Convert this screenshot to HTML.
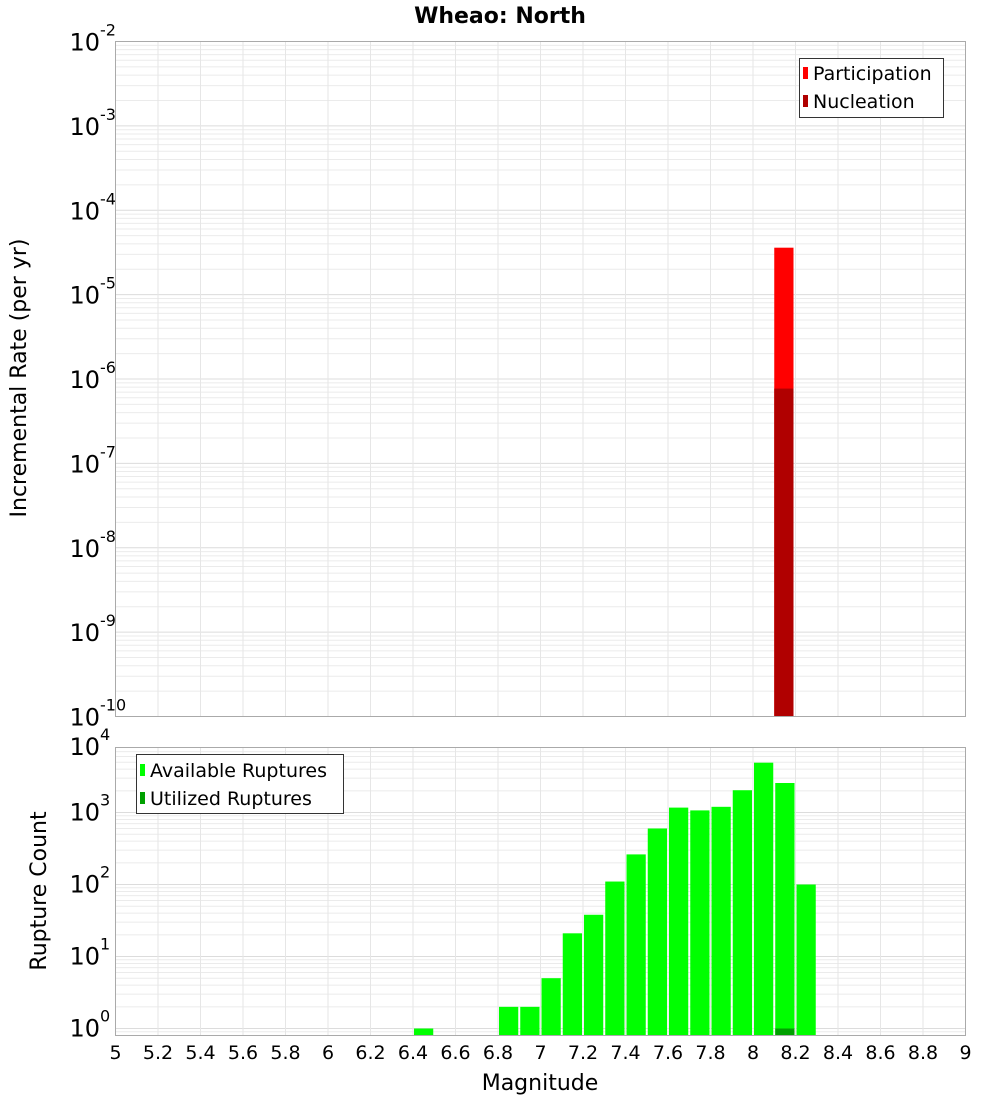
<!DOCTYPE html>
<html><head><meta charset="utf-8"><style>
body{margin:0;background:#fff}
svg{display:block;font-family:"DejaVu Sans","Liberation Sans",sans-serif}
</style></head><body>
<svg id="c" width="1000" height="1100">
<text x="500" y="23" text-anchor="middle" font-size="22" font-weight="bold">Wheao: North</text>
<g id="gtop"></g>
<g id="gbot"></g>
<text transform="translate(26,378) rotate(-90)" text-anchor="middle" font-size="22">Incremental Rate (per yr)</text>
<text transform="translate(46,891) rotate(-90)" text-anchor="middle" font-size="22">Rupture Count</text>
<text x="540" y="1090" text-anchor="middle" font-size="22">Magnitude</text>
<g>
<rect x="799.5" y="58.5" width="144" height="59" fill="#fff" stroke="#333"/>
<rect x="803" y="67" width="5" height="12" fill="#ff0000"/>
<text x="813" y="80" font-size="19">Participation</text>
<rect x="803" y="95" width="5" height="12" fill="#b00000"/>
<text x="813" y="108" font-size="19">Nucleation</text>
</g>
<g>
<rect x="136.5" y="754.5" width="207" height="59" fill="#fff" stroke="#333"/>
<rect x="140" y="764" width="5" height="12" fill="#00ff00"/>
<text x="150" y="777" font-size="19">Available Ruptures</text>
<rect x="140" y="792" width="5" height="12" fill="#00a000"/>
<text x="150" y="805" font-size="19">Utilized Ruptures</text>
</g>
</svg>
<script>
const xTicks=[5,5.2,5.4,5.6,5.8,6,6.2,6.4,6.6,6.8,7,7.2,7.4,7.6,7.8,8,8.2,8.4,8.6,8.8,9];
const xTickLabels=["5","5.2","5.4","5.6","5.8","6","6.2","6.4","6.6","6.8","7","7.2","7.4","7.6","7.8","8","8.2","8.4","8.6","8.8","9"];
const rateMags=[8.1];
const participation=[3.6e-5];
const nucleation=[7.7e-7];
const topExps=[-2,-3,-4,-5,-6,-7,-8,-9,-10];
const countMags=[6.4,6.8,6.9,7.0,7.1,7.2,7.3,7.4,7.5,7.6,7.7,7.8,7.9,8.0,8.1,8.2];
const available=[1,2,2,5,21,38,110,262,600,1170,1070,1200,2040,4920,2570,100];
const utilizedMags=[8.1];
const utilized=[1];
const botExps=[0,1,2,3,4];

const NS="http://www.w3.org/2000/svg";
function mk(p,t,a){const e=document.createElementNS(NS,t);for(const k in a)e.setAttribute(k,a[k]);p.appendChild(e);return e;}
const L=115.5,R=965.5;
const xS=m=>L+(m-5)/4*(R-L);
const tT=41.5,tB=716.5,tMin=-10,tMax=-2;
const yT=v=>tB-(Math.log10(v)-tMin)/(tMax-tMin)*(tB-tT);
const bT=747.5,bB=1035.5,bMin=-0.097,bMax=3.903;
const yB=v=>bB-(Math.log10(v)-bMin)/(bMax-bMin)*(bB-bT);

function grid(g,t0,b0,ys,lo,hi){
  for(let e=Math.floor(lo);e<=Math.ceil(hi);e++)for(let k=1;k<10;k++){
    const v=k*Math.pow(10,e);const lv=Math.log10(v);if(lv<lo||lv>hi)continue;
    const y=ys(v);
    const l=mk(g,'line',{x1:L,x2:R,y1:y,y2:y,stroke:k==1?'#dcdcdc':'#ebebeb','stroke-width':1});
    
    
  }
  xTicks.forEach(m=>{const x=xS(m);
    const l=mk(g,'line',{x1:x,x2:x,y1:t0,y2:b0,stroke:'#e6e6e6'});
    
    });
}
const gTop=document.getElementById('gtop'),gBot=document.getElementById('gbot');
grid(gTop,tT,tB,yT,tMin,tMax);
grid(gBot,bT,bB,yB,bMin,bMax);

function ylabel(g,e,ty,name){
  const t=mk(g,'text',{x:100,y:ty,'text-anchor':'end','font-size':24});
  t.textContent='10';
  
  
  const s=mk(g,'text',{x:100,y:ty-15,'font-size':16});
  s.textContent=String(e);
  
  
}
topExps.forEach(e=>ylabel(gTop,e,yT(Math.pow(10,e))+9,'top-y-tick-label'));
botExps.forEach(e=>ylabel(gBot,e,Math.max(yB(Math.pow(10,e))+8,755),'bottom-y-tick-label'));

const bw=(R-L)/40;
rateMags.forEach((m,i)=>{
  const r=mk(gTop,'rect',{x:xS(m),y:yT(participation[i]),width:bw-2,height:tB-yT(participation[i]),fill:'#ff0000'});
  
  
  const n=mk(gTop,'rect',{x:xS(m),y:yT(nucleation[i]),width:bw-2,height:tB-yT(nucleation[i]),fill:'#b00000'});
  
  
});
countMags.forEach((m,i)=>{
  const r=mk(gBot,'rect',{x:xS(m)+1,y:yB(available[i]),width:bw-2,height:bB-yB(available[i]),fill:'#00ff00'});
  
  
});
utilizedMags.forEach((m,i)=>{
  const r=mk(gBot,'rect',{x:xS(m)+1,y:yB(utilized[i]),width:bw-2,height:bB-yB(utilized[i]),fill:'#00a000'});
  
  
});
[[gTop,tT,tB],[gBot,bT,bB]].forEach(([g,a,b])=>{
  const f=mk(g,'rect',{x:L,y:a,width:R-L,height:b-a,fill:'none',stroke:'#aaaaaa'});
  
  
});
xTicks.forEach((m,i)=>{
  const t=mk(gBot,'text',{x:xS(m),y:1059,'text-anchor':'middle','font-size':19});
  t.textContent=xTickLabels[i];
  
  
});
</script>
</body></html>
